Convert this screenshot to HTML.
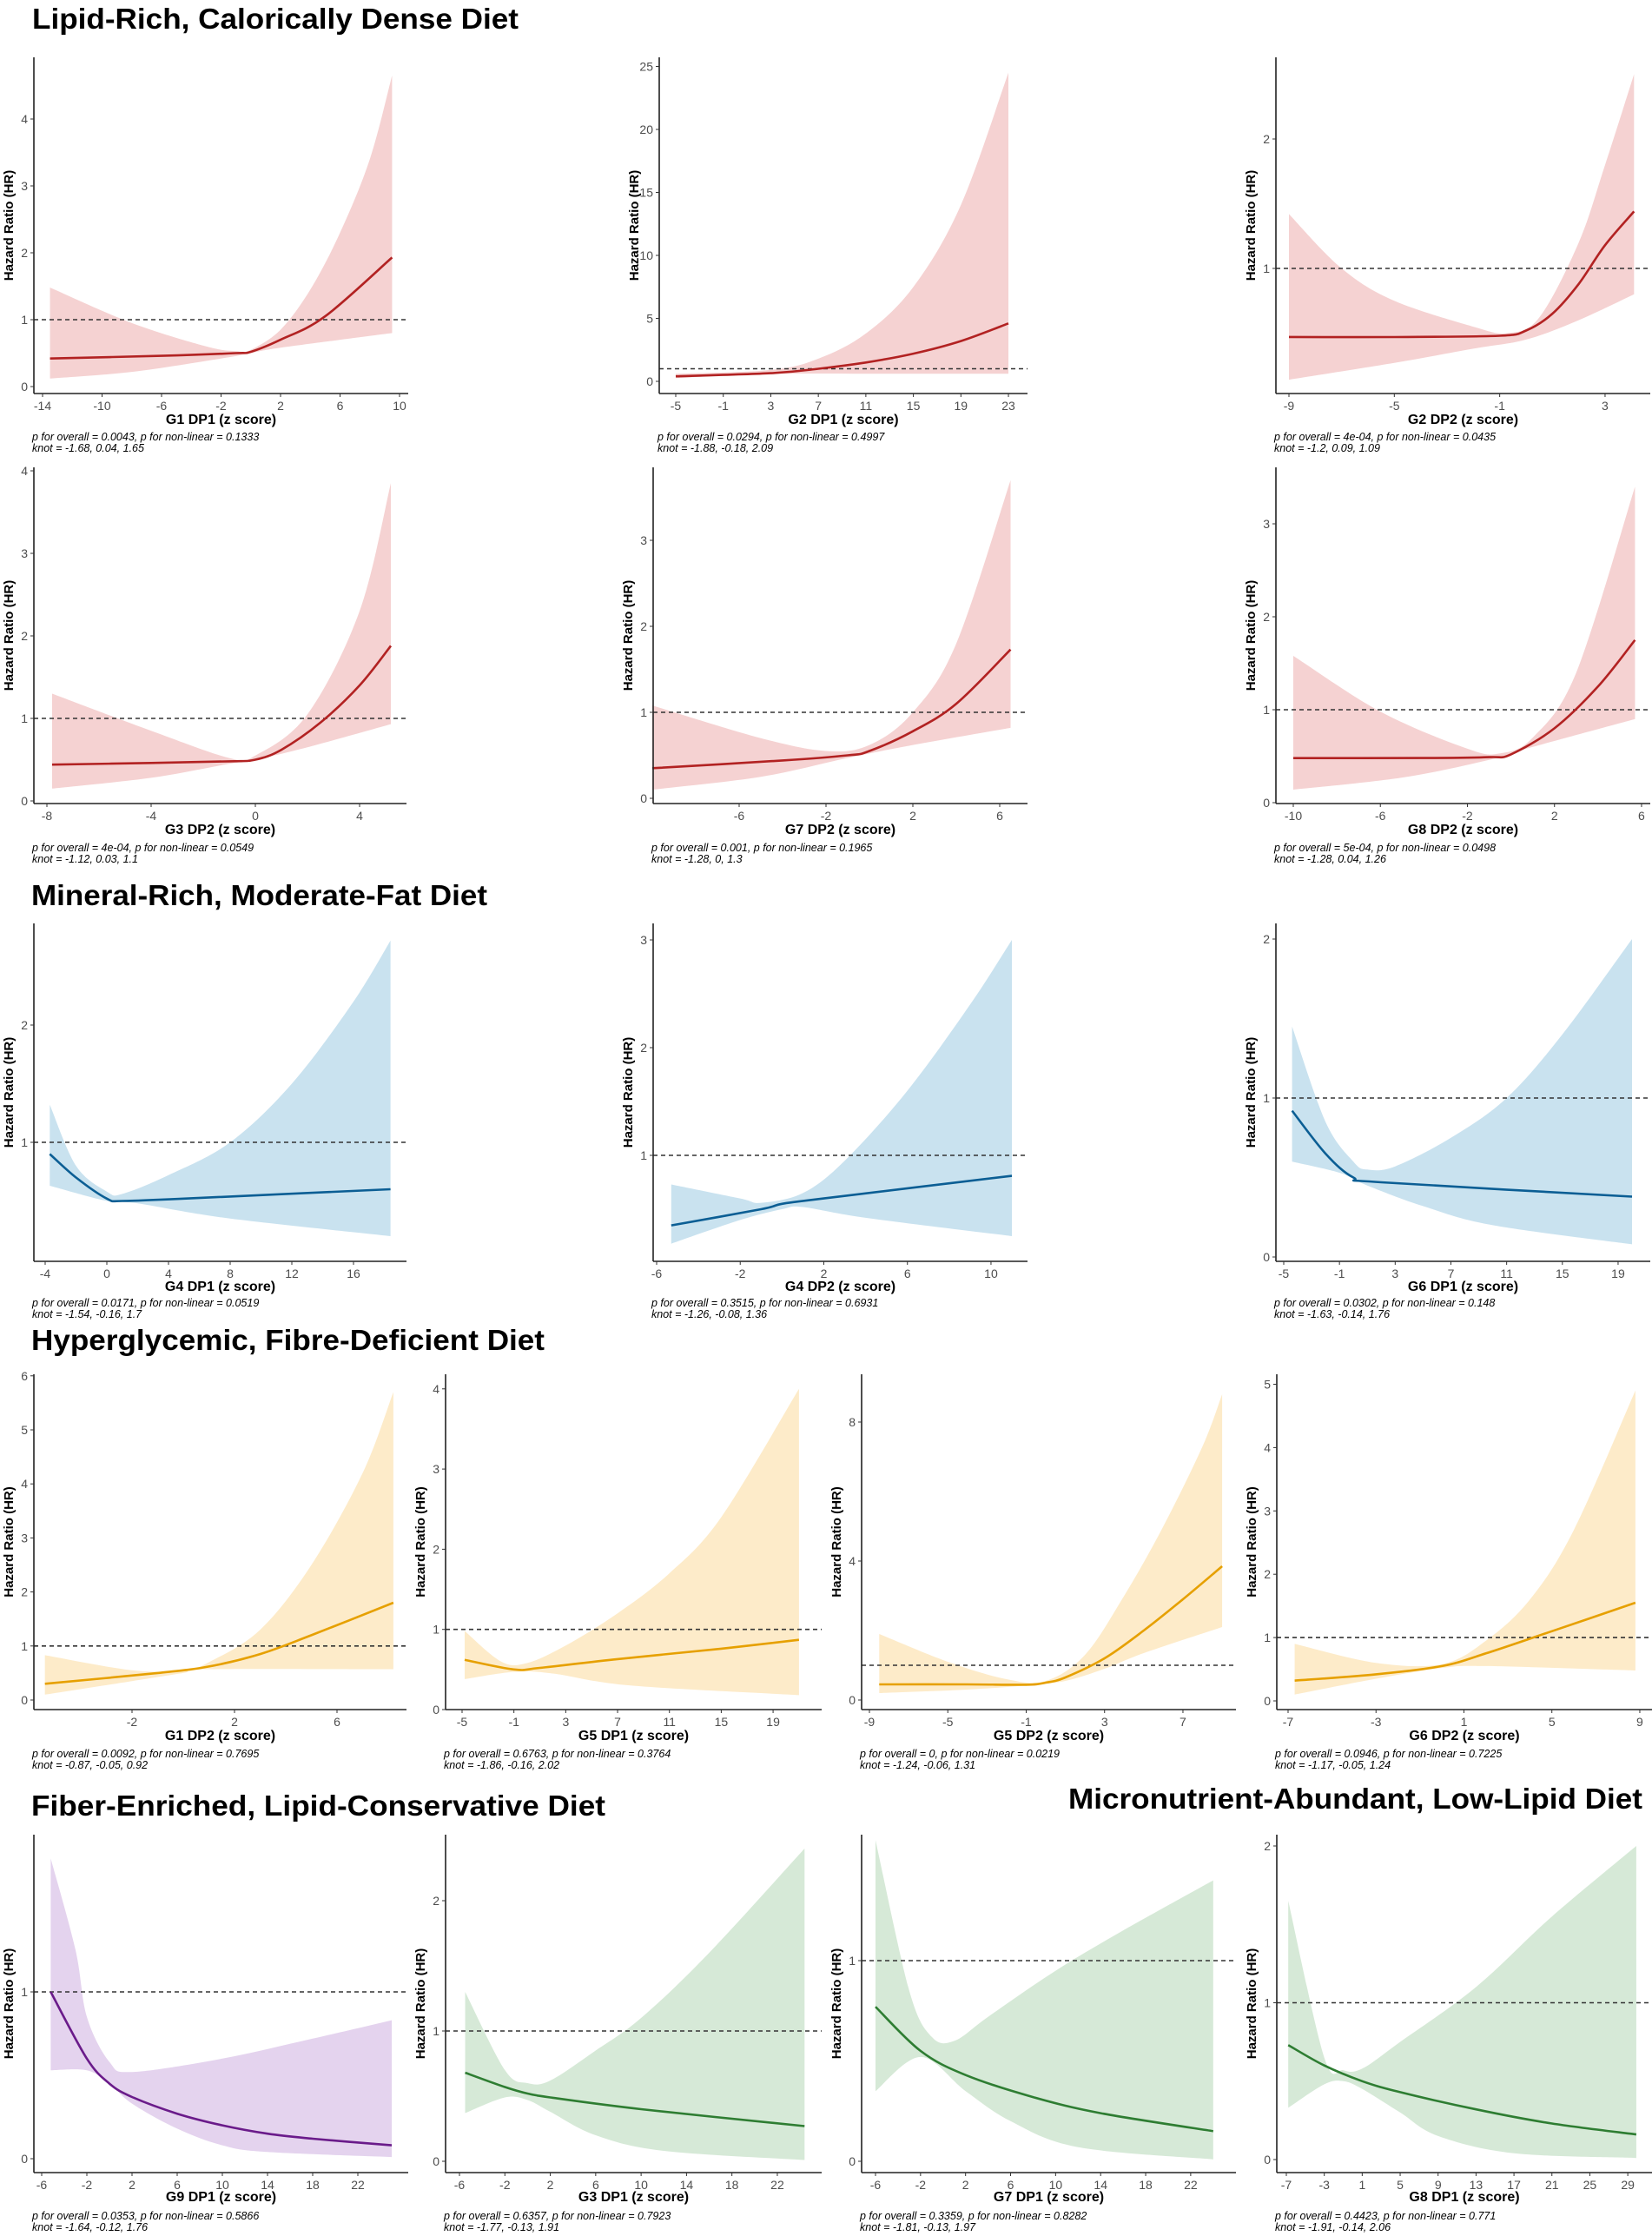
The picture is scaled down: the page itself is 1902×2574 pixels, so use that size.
<!DOCTYPE html>
<html><head><meta charset="utf-8"><style>
html,body{margin:0;padding:0;background:#fff;}
svg{display:block;}
.t{font-family:"Liberation Sans",Arial,sans-serif;font-weight:bold;fill:#000;}
.tk{font-family:"Liberation Sans",Arial,sans-serif;font-size:14px;fill:#4d4d4d;}
.xl{font-family:"Liberation Sans",Arial,sans-serif;font-size:16px;font-weight:bold;fill:#000;}
.yl{font-family:"Liberation Sans",Arial,sans-serif;font-size:15px;font-weight:bold;fill:#000;}
.cap{font-family:"Liberation Sans",Arial,sans-serif;font-size:12.5px;font-style:italic;fill:#000;}
</style></head><body>
<svg id="s" width="1902" height="2574" viewBox="0 0 1902 2574" xmlns="http://www.w3.org/2000/svg">
<rect width="1902" height="2574" fill="#fff"/>
<text class="t" x="37" y="33" font-size="33" textLength="560" lengthAdjust="spacingAndGlyphs">Lipid-Rich, Calorically Dense Diet</text>
<text class="t" x="36" y="1042" font-size="33" textLength="525" lengthAdjust="spacingAndGlyphs">Mineral-Rich, Moderate-Fat Diet</text>
<text class="t" x="36" y="1554" font-size="33" textLength="591" lengthAdjust="spacingAndGlyphs">Hyperglycemic, Fibre-Deficient Diet</text>
<text class="t" x="36" y="2090" font-size="33" textLength="661" lengthAdjust="spacingAndGlyphs">Fiber-Enriched, Lipid-Conservative Diet</text>
<text class="t" x="1230" y="2082" font-size="33" textLength="661" lengthAdjust="spacingAndGlyphs">Micronutrient-Abundant, Low-Lipid Diet</text>
<g id="g"></g>
</svg>
<script>
var C={r:['#b22222','#f5d2d2'],b:['#0b5e94','#c9e2ef'],o:['#e6a000','#fdebc9'],p:['#6a1b8a','#e4d3ee'],g:['#2e7d32','#d6e9d7']};
var R=[{top:66,bot:453,xl:482,c1:503},{top:538,bot:925,xl:954,c1:976},{top:1063,bot:1452,xl:1480,c1:1500},{top:1582,bot:1968,xl:1997,c1:2019},{top:2112,bot:2501,xl:2528,c1:2551}];
var P=[
{r:0,L:39,Rt:470,col:'r',xa:-14,xp:49,xs:17.125,y0:445,ys:77,yt:[0,1,2,3,4],xt:[-14,-10,-6,-2,2,6,10],lab:'G1 DP1 (z score)',cap:['p for overall = 0.0043, p for non-linear = 0.1333','knot = -1.68, 0.04, 1.65'],
 e:[[-13.5,0.42],[-6,0.46],[-1,0.5],[0,0.52],[2,0.7],[5,1.05],[9.5,1.93]],lo:[[-13.5,0.12],[-8,0.22],[-2,0.42],[0,0.5],[2,0.58],[9.5,0.8]],hi:[[-13.5,1.48],[-8,0.95],[-3,0.6],[-1,0.53],[0,0.55],[2,0.85],[4,1.45],[6,2.3],[8,3.4],[9.5,4.65]]},
{r:0,L:759,Rt:1183,col:'r',xa:-5,xp:778,xs:13.68,y0:439,ys:14.5,yt:[0,5,10,15,20,25],xt:[-5,-1,3,7,11,15,19,23],lab:'G2 DP1 (z score)',cap:['p for overall = 0.0294, p for non-linear = 0.4997','knot = -1.88, -0.18, 2.09'],
 e:[[-5,0.4],[3,0.65],[7,1.0],[11,1.5],[15,2.2],[19,3.2],[23,4.6]],lo:[[-5,0.25],[3,0.6],[13,0.6],[23,0.6]],hi:[[-5,0.6],[3,0.9],[7,1.8],[11,3.8],[15,7.5],[19,14],[23,24.5]]},
{r:0,L:1469,Rt:1900,col:'r',xa:-9,xp:1484,xs:30.33,y0:458,ys:149,yt:[1,2],xt:[-9,-5,-1,3],lab:'G2 DP2 (z score)',cap:['p for overall = 4e-04, p for non-linear = 0.0435','knot = -1.2, 0.09, 1.09'],
 e:[[-9,0.47],[-5,0.47],[-1,0.48],[0,0.52],[1,0.65],[2,0.88],[3,1.18],[4.1,1.44]],lo:[[-9,0.14],[-5,0.27],[-2,0.38],[0,0.45],[2,0.6],[4.1,0.8]],hi:[[-9,1.42],[-7,1.0],[-5,0.75],[-2,0.55],[-0.7,0.5],[0.5,0.62],[2,1.2],[3,1.8],[4.1,2.5]]},
{r:1,L:39,Rt:468,col:'r',xa:-8,xp:54,xs:30,y0:922,ys:95,yt:[0,1,2,3,4],xt:[-8,-4,0,4],lab:'G3 DP2 (z score)',cap:['p for overall = 4e-04, p for non-linear = 0.0549','knot = -1.12, 0.03, 1.1'],
 e:[[-7.8,0.44],[-4,0.46],[-1,0.48],[0,0.5],[1,0.62],[2.5,0.95],[4,1.4],[5.2,1.88]],lo:[[-7.8,0.15],[-4,0.28],[-1,0.45],[0,0.5],[2,0.65],[5.2,0.93]],hi:[[-7.8,1.3],[-4,0.85],[-1,0.52],[0,0.55],[2,1.05],[4,2.3],[5.2,3.85]]},
{r:1,L:752,Rt:1183,col:'r',xa:-6,xp:851,xs:25,y0:919,ys:99,yt:[0,1,2,3],xt:[-6,-2,2,6],lab:'G7 DP2 (z score)',cap:['p for overall = 0.001, p for non-linear = 0.1965','knot = -1.28, 0, 1.3'],
 e:[[-10,0.35],[-4,0.44],[-1,0.5],[0,0.55],[2,0.78],[4,1.1],[6.5,1.73]],lo:[[-10,0.1],[-5,0.25],[-1,0.47],[2,0.62],[6.5,0.82]],hi:[[-10,1.08],[-5,0.7],[-2,0.55],[0,0.62],[2,1.0],[4,1.8],[6.5,3.7]]},
{r:1,L:1469,Rt:1900,col:'r',xa:-10,xp:1489,xs:25.06,y0:924,ys:107,yt:[0,1,2,3],xt:[-10,-6,-2,2,6],lab:'G8 DP2 (z score)',cap:['p for overall = 5e-04, p for non-linear = 0.0498','knot = -1.28, 0.04, 1.26'],
 e:[[-10,0.48],[-4,0.48],[-1,0.49],[0,0.52],[2,0.8],[4,1.25],[5.7,1.75]],lo:[[-10,0.14],[-5,0.27],[-1,0.46],[1,0.6],[5.7,0.9]],hi:[[-10,1.58],[-6,0.98],[-2,0.58],[-0.5,0.53],[1,0.7],[3,1.4],[5.7,3.4]]},
{r:2,L:39,Rt:468,col:'b',xa:-4,xp:52,xs:17.75,y0:1450,ys:135,yt:[1,2],xt:[-4,0,4,8,12,16],lab:'G4 DP1 (z score)',cap:['p for overall = 0.0171, p for non-linear = 0.0519','knot = -1.54, -0.16, 1.7'],
 e:[[-3.7,0.9],[-2,0.7],[0,0.52],[1,0.5],[5,0.52],[18.4,0.6]],lo:[[-3.7,0.63],[0,0.5],[2,0.48],[8,0.35],[18.4,0.2]],hi:[[-3.7,1.32],[-2,0.8],[0,0.58],[1,0.56],[4,0.72],[8,1.0],[12,1.5],[16,2.2],[18.4,2.72]]},
{r:2,L:752,Rt:1183,col:'b',xa:-6,xp:756,xs:24.06,y0:1454,ys:124,yt:[1,2,3],xt:[-6,-2,2,6,10],lab:'G4 DP2 (z score)',cap:['p for overall = 0.3515, p for non-linear = 0.6931','knot = -1.26, -0.08, 1.36'],
 e:[[-5.3,0.35],[-1,0.5],[0,0.55],[2,0.6],[11,0.81]],lo:[[-5.3,0.18],[-2,0.4],[0,0.5],[1,0.52],[4,0.42],[11,0.25]],hi:[[-5.3,0.73],[-2,0.6],[-1,0.56],[1,0.65],[3,0.95],[6,1.6],[9,2.4],[11,3.0]]},
{r:2,L:1469,Rt:1900,col:'b',xa:-5,xp:1478,xs:16.04,y0:1447,ys:183,yt:[0,1,2],xt:[-5,-1,3,7,11,15,19],lab:'G6 DP1 (z score)',cap:['p for overall = 0.0302, p for non-linear = 0.148','knot = -1.63, -0.14, 1.76'],
 e:[[-4.4,0.92],[-2,0.65],[0,0.5],[2,0.47],[20,0.38]],lo:[[-4.4,0.6],[-1,0.53],[1,0.45],[5,0.32],[10,0.2],[20,0.08]],hi:[[-4.4,1.45],[-2,0.85],[0,0.6],[1,0.55],[3,0.57],[7,0.75],[11,1.0],[15,1.4],[20,2.0]]},
{r:3,L:39,Rt:468,col:'o',xa:-2,xp:152,xs:29.5,y0:1957,ys:62.2,yt:[0,1,2,3,4,5,6],xt:[-2,2,6],lab:'G1 DP2 (z score)',cap:['p for overall = 0.0092, p for non-linear = 0.7695','knot = -0.87, -0.05, 0.92'],
 e:[[-5.4,0.3],[-1,0.5],[1,0.62],[3,0.85],[5,1.2],[8.2,1.8]],lo:[[-5.4,0.1],[-2,0.35],[0,0.5],[1,0.57],[8.2,0.57]],hi:[[-5.4,0.83],[-2,0.55],[0,0.55],[1,0.7],[3,1.3],[5,2.5],[7,4.2],[8.2,5.7]]},
{r:3,L:513,Rt:946,col:'o',xa:-5,xp:532,xs:14.92,y0:1968,ys:92.3,yt:[0,1,2,3,4],xt:[-5,-1,3,7,11,15,19],lab:'G5 DP1 (z score)',cap:['p for overall = 0.6763, p for non-linear = 0.3764','knot = -1.86, -0.16, 2.02'],
 e:[[-4.8,0.62],[-1,0.5],[1,0.52],[7,0.63],[15,0.76],[21,0.87]],lo:[[-4.8,0.38],[-1,0.47],[2,0.45],[8,0.3],[21,0.18]],hi:[[-4.8,0.98],[-2,0.6],[0,0.58],[3,0.8],[7,1.2],[11,1.7],[15,2.4],[21,4.0]]},
{r:3,L:992,Rt:1423,col:'o',xa:-9,xp:1001,xs:22.56,y0:1957,ys:40,yt:[0,4,8],xt:[-9,-5,-1,3,7],lab:'G5 DP2 (z score)',cap:['p for overall = 0, p for non-linear = 0.0219','knot = -1.24, -0.06, 1.31'],
 e:[[-8.5,0.45],[-4,0.45],[-1,0.44],[0,0.5],[1,0.65],[3,1.2],[5,2.0],[7,2.9],[9,3.85]],lo:[[-8.5,0.2],[-4,0.3],[-1,0.42],[1,0.55],[3,0.9],[5,1.35],[9,2.1]],hi:[[-8.5,1.9],[-5,1.1],[-2,0.6],[0,0.55],[2,1.3],[4,3],[6,5],[8,7.3],[9,8.8]]},
{r:3,L:1470,Rt:1902,col:'o',xa:-7,xp:1483,xs:25.31,y0:1958,ys:72.9,yt:[0,1,2,3,4,5],xt:[-7,-3,1,5,9],lab:'G6 DP2 (z score)',cap:['p for overall = 0.0946, p for non-linear = 0.7225','knot = -1.17, -0.05, 1.24'],
 e:[[-6.7,0.32],[-3,0.42],[0,0.55],[2,0.75],[5,1.1],[8.8,1.55]],lo:[[-6.7,0.1],[-3,0.35],[0,0.52],[2,0.55],[8.8,0.48]],hi:[[-6.7,0.9],[-3,0.6],[0,0.58],[2,0.95],[4,1.6],[6,2.7],[8.8,4.9]]},
{r:4,L:39,Rt:470,col:'p',xa:-6,xp:48,xs:13,y0:2485,ys:192,yt:[0,1],xt:[-6,-2,2,6,10,14,18,22],lab:'G9 DP1 (z score)',cap:['p for overall = 0.0353, p for non-linear = 0.5866','knot = -1.64, -0.12, 1.76'],
 e:[[-5.2,1.0],[-2,0.6],[0,0.45],[2,0.37],[6,0.27],[10,0.2],[14,0.15],[18,0.12],[25,0.08]],lo:[[-5.2,0.53],[-2,0.53],[0,0.45],[2,0.33],[6,0.18],[10,0.08],[14,0.04],[25,0.01]],hi:[[-5.2,1.8],[-3,1.25],[-2,0.85],[0,0.58],[2,0.52],[10,0.6],[18,0.72],[25,0.83]]},
{r:4,L:513,Rt:946,col:'g',xa:-6,xp:529,xs:13.07,y0:2488,ys:150,yt:[0,1,2],xt:[-6,-2,2,6,10,14,18,22],lab:'G3 DP1 (z score)',cap:['p for overall = 0.6357, p for non-linear = 0.7923','knot = -1.77, -0.13, 1.91'],
 e:[[-5.5,0.68],[-2,0.57],[0,0.52],[2,0.49],[10,0.4],[24.4,0.27]],lo:[[-5.5,0.37],[-2,0.49],[0,0.47],[2,0.38],[6,0.2],[12,0.08],[24.4,0.01]],hi:[[-5.5,1.3],[-2,0.7],[0,0.6],[2,0.62],[6,0.85],[10,1.1],[16,1.6],[24.4,2.4]]},
{r:4,L:992,Rt:1423,col:'g',xa:-6,xp:1008,xs:12.96,y0:2488,ys:231,yt:[0,1],xt:[-6,-2,2,6,10,14,18,22],lab:'G7 DP1 (z score)',cap:['p for overall = 0.3359, p for non-linear = 0.8282','knot = -1.81, -0.13, 1.97'],
 e:[[-6,0.77],[-2,0.55],[2,0.43],[8,0.32],[14,0.24],[24,0.15]],lo:[[-6,0.35],[-2,0.52],[2,0.35],[6,0.2],[12,0.07],[24,0.01]],hi:[[-6,1.6],[-3,0.85],[-1,0.62],[1,0.6],[4,0.72],[10,0.95],[16,1.15],[24,1.4]]},
{r:4,L:1470,Rt:1902,col:'g',xa:-7,xp:1481,xs:10.92,y0:2486,ys:180.5,yt:[0,1,2],xt:[-7,-3,1,5,9,13,17,21,25,29],lab:'G8 DP1 (z score)',cap:['p for overall = 0.4423, p for non-linear = 0.771','knot = -1.91, -0.14, 2.06'],
 e:[[-6.8,0.73],[-3,0.6],[1,0.5],[5,0.43],[13,0.32],[21,0.23],[29.9,0.16]],lo:[[-6.8,0.33],[-3,0.48],[-1,0.5],[1,0.45],[5,0.3],[9,0.15],[17,0.04],[29.9,0.01]],hi:[[-6.8,1.65],[-3,0.65],[-1,0.57],[1,0.58],[5,0.75],[13,1.1],[21,1.55],[29.9,2.0]]}
];
function cr(pts){ // catmull-rom -> bezier path segments (no M)
  var d='';
  for(var i=0;i<pts.length-1;i++){
    var p0=pts[i-1]||pts[i],p1=pts[i],p2=pts[i+1],p3=pts[i+2]||p2;
    var c1=[p1[0]+(p2[0]-p0[0])/6,p1[1]+(p2[1]-p0[1])/6];
    var c2=[p2[0]-(p3[0]-p1[0])/6,p2[1]-(p3[1]-p1[1])/6];
    d+=' C'+c1[0].toFixed(1)+','+c1[1].toFixed(1)+' '+c2[0].toFixed(1)+','+c2[1].toFixed(1)+' '+p2[0].toFixed(1)+','+p2[1].toFixed(1);
  }
  return d;
}
var h='';
P.forEach(function(p){
  var r=R[p.r];
  var X=function(v){return p.xp+(v-p.xa)*p.xs;}, Y=function(v){return p.y0-v*p.ys;};
  var tr=function(a){return a.map(function(q){return [X(q[0]),Y(q[1])];});};
  var hi=tr(p.hi), lo=tr(p.lo).reverse(), e=tr(p.e);
  var c=C[p.col];
  h+='<path d="M'+hi[0][0]+','+hi[0][1]+cr(hi)+' L'+lo[0][0]+','+lo[0][1]+cr(lo)+' Z" fill="'+c[1]+'"/>';
  h+='<line x1="'+p.L+'" x2="'+p.Rt+'" y1="'+Y(1)+'" y2="'+Y(1)+'" stroke="#333" stroke-width="1.6" stroke-dasharray="5,4"/>';
  h+='<path d="M'+e[0][0]+','+e[0][1]+cr(e)+'" fill="none" stroke="'+c[0]+'" stroke-width="2.6"/>';
  h+='<line x1="'+p.L+'" x2="'+p.L+'" y1="'+r.top+'" y2="'+r.bot+'" stroke="#222" stroke-width="1.6"/>';
  h+='<line x1="'+p.L+'" x2="'+p.Rt+'" y1="'+r.bot+'" y2="'+r.bot+'" stroke="#222" stroke-width="1.6"/>';
  p.yt.forEach(function(v){var y=Y(v);h+='<line x1="'+(p.L-4)+'" x2="'+p.L+'" y1="'+y+'" y2="'+y+'" stroke="#333"/><text class="tk" x="'+(p.L-7)+'" y="'+(y+5)+'" text-anchor="end">'+v+'</text>';});
  p.xt.forEach(function(v){var x=X(v);h+='<line x1="'+x+'" x2="'+x+'" y1="'+r.bot+'" y2="'+(r.bot+4)+'" stroke="#333"/><text class="tk" x="'+x+'" y="'+(r.bot+19)+'" text-anchor="middle">'+v+'</text>';});
  var cx=(p.L+p.Rt)/2;
  h+='<text class="xl" x="'+cx+'" y="'+(r.xl+6)+'" text-anchor="middle">'+p.lab+'</text>';
  var yc=(r.top+r.bot)/2;
  h+='<text class="yl" x="'+(p.L-24)+'" y="'+yc+'" text-anchor="middle" transform="rotate(-90 '+(p.L-24)+' '+yc+')">Hazard Ratio (HR)</text>';
  h+='<text class="cap" x="'+(p.L-2)+'" y="'+(r.c1+4)+'">'+p.cap[0]+'</text>';
  h+='<text class="cap" x="'+(p.L-2)+'" y="'+(r.c1+17)+'">'+p.cap[1]+'</text>';
});
document.getElementById('g').innerHTML=h;
</script>
</body></html>
